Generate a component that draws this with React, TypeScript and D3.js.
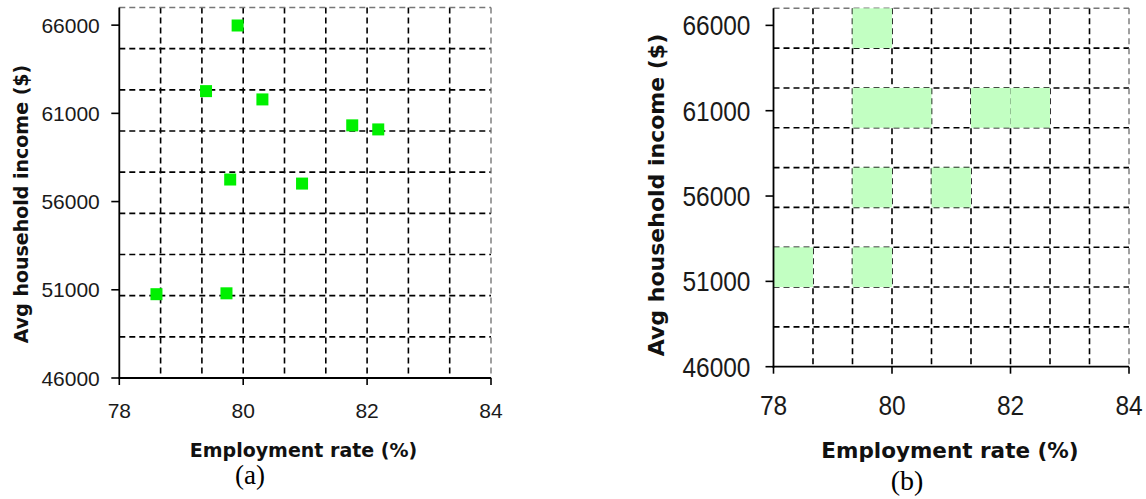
import React from 'react'
import * as d3 from 'd3'

// employment rate (%) and average household income ($) per region
const employmentRate = [79.91, 79.4, 80.31, 81.76, 82.18, 79.79, 80.95, 78.6, 79.73]
const householdIncome = [65980, 62260, 61790, 60320, 60090, 57250, 57020, 50750, 50800]

const xTicks = [78, 80, 82, 84]
const yTicks = [46000, 51000, 56000, 61000, 66000]
const xDomain = [78, 84]
const yDomain = [46000, 67000]
const gridCount = 9

const W = 1146
const H = 499
const tickFont = '"Liberation Sans", Arial, sans-serif'
const titleFont = '"DejaVu Sans", Verdana, sans-serif'

type PanelProps = {
    left: number; right: number; top: number; bottom: number
    tickSize: number; stretch: number; labelGap: number; xLabelY: number
    yTitleX: number; yTitleY: number; yTitleSize: number
    xTitleX: number; xTitleY: number; xTitleSize: number
    caption: string; capX: number; capY: number; capSize: number
    mode: 'points' | 'cells'
}

function Panel(p: PanelProps) {
    const x = d3.scaleLinear().domain(xDomain).range([p.left, p.right])
    const y = d3.scaleLinear().domain(yDomain).range([p.bottom, p.top])

    const gx = d3.range(1, gridCount).map(i => p.left + (p.right - p.left) * i / gridCount)
    const gy = d3.range(1, gridCount).map(i => p.top + (p.bottom - p.top) * i / gridCount)

    // bins for the (b) panel follow the grid
    const qx = d3.scaleQuantize<number>().domain(xDomain).range(d3.range(gridCount))
    const qy = d3.scaleQuantize<number>().domain(yDomain).range(d3.range(gridCount))
    const cells = new Map<string, [number, number]>()
    employmentRate.forEach((e, i) => {
        const bx = qx(e), by = qy(householdIncome[i])
        cells.set(bx + '-' + by, [bx, by])
    })

    const dash = '6,4'
    return (
        <g>
            {gx.map((v, i) => (
                <line key={'vx' + i} x1={v} x2={v} y1={p.top} y2={p.bottom}
                    stroke="#000" strokeWidth={1.6} strokeDasharray={dash} />
            ))}
            {gy.map((v, i) => (
                <line key={'hy' + i} x1={p.left} x2={p.right} y1={v} y2={v}
                    stroke="#000" strokeWidth={1.6} strokeDasharray={dash} />
            ))}
            {/* top and right border */}
            <line x1={p.left} x2={p.right} y1={p.top} y2={p.top} stroke="#777" strokeWidth={1.4} strokeDasharray={dash} />
            <line x1={p.right} x2={p.right} y1={p.top} y2={p.bottom} stroke="#777" strokeWidth={1.4} strokeDasharray={dash} />

            {p.mode === 'points' && employmentRate.map((e, i) => (
                <rect key={'pt' + i} x={x(e) - 6} y={y(householdIncome[i]) - 6} width={12} height={12} fill="#00f000" />
            ))}
            {p.mode === 'cells' && Array.from(cells.values()).map(([bx, by]) => {
                const [x0, x1] = qx.invertExtent(bx)
                const [y0, y1] = qy.invertExtent(by)
                return (
                    <rect key={'c' + bx + by} x={x(x0)} y={y(y1)} width={x(x1) - x(x0)}
                        height={y(y0) - y(y1)} fill="#c2ffc2" />
                )
            })}

            {/* axes */}
            <line x1={p.left} x2={p.left} y1={p.top} y2={p.bottom + 1} stroke="#000" strokeWidth={1.8} />
            <line x1={p.left - 1} x2={p.right} y1={p.bottom} y2={p.bottom} stroke="#000" strokeWidth={1.8} />
            {yTicks.map(t => (
                <g key={'yt' + t}>
                    <line x1={p.left - 8} x2={p.left} y1={y(t)} y2={y(t)} stroke="#000" strokeWidth={1.6} />
                    <text transform={`translate(${p.left - p.labelGap},${y(t)}) scale(1,${p.stretch})`}
                        dy="0.36em" textAnchor="end" fontFamily={tickFont} fontSize={p.tickSize} fill="#1a1a1a">{t}</text>
                </g>
            ))}
            {xTicks.map(t => (
                <g key={'xt' + t}>
                    <line x1={x(t)} x2={x(t)} y1={p.bottom} y2={p.bottom + 7} stroke="#000" strokeWidth={1.6} />
                    <text transform={`translate(${x(t)},${p.xLabelY}) scale(1,${p.stretch})`}
                        textAnchor="middle" fontFamily={tickFont} fontSize={p.tickSize} fill="#1a1a1a">{t}</text>
                </g>
            ))}

            <text transform={`translate(${p.yTitleX},${p.yTitleY}) rotate(-90)`} dy="0.35em" textAnchor="middle"
                fontFamily={titleFont} fontWeight="bold" fontSize={p.yTitleSize} fill="#111">Avg household income ($)</text>
            <text x={p.xTitleX} y={p.xTitleY} textAnchor="middle"
                fontFamily={titleFont} fontWeight="bold" fontSize={p.xTitleSize} fill="#111">Employment rate (%)</text>
            <text x={p.capX} y={p.capY} textAnchor="middle"
                fontFamily='"Liberation Serif", "Times New Roman", serif' fontSize={p.capSize} fill="#000">{p.caption}</text>
        </g>
    )
}

export default function App() {
    return (
        <div style={{ position: 'absolute', left: 0, top: 0 }}>
            <svg width={W} height={H} style={{ display: 'block', background: '#fff' }}>
                <Panel left={119.3} right={491} top={7.5} bottom={378}
                    tickSize={21} stretch={1} labelGap={19.5} xLabelY={418}
                    yTitleX={21.7} yTitleY={204} yTitleSize={19}
                    xTitleX={303.5} xTitleY={457} xTitleSize={19}
                    caption="(a)" capX={250} capY={484} capSize={27} mode="points" />
                <Panel left={773.5} right={1129} top={8.3} bottom={366.7}
                    tickSize={24.5} stretch={1.12} labelGap={23} xLabelY={415}
                    yTitleX={656.7} yTitleY={195} yTitleSize={22}
                    xTitleX={950} xTitleY={458} xTitleSize={21.5}
                    caption="(b)" capX={907} capY={490} capSize={28} mode="cells" />
            </svg>
        </div>
    )
}
